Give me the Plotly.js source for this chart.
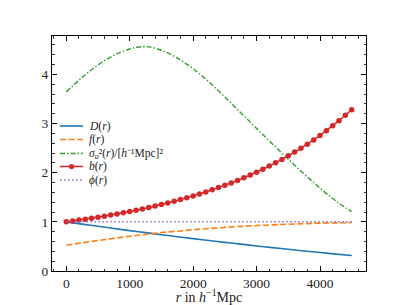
<!DOCTYPE html>
<html>
<head>
<meta charset="utf-8">
<script src="https://cdn.plot.ly/plotly-3.0.1.min.js"></script>
<style>html,body{margin:0;padding:0;background:#fff;}#chart{width:407px;height:305px;}</style>
</head>
<body>
<div id="chart"></div>
<script>
// radial grid (h^-1 Mpc) for smooth curves
var rCoarse = [0, 250, 500, 750, 1000, 1250, 1500, 1750, 2000, 2250, 2500, 2750, 3000, 3250, 3500, 3750, 4000, 4250, 4500];
var Dvals = [1.000, 0.954, 0.909, 0.865, 0.822, 0.780, 0.739, 0.698, 0.659, 0.620, 0.583, 0.546, 0.510, 0.475, 0.441, 0.408, 0.376, 0.344, 0.314];
var fvals = [0.525, 0.574, 0.620, 0.664, 0.706, 0.743, 0.782, 0.810, 0.839, 0.864, 0.887, 0.908, 0.924, 0.939, 0.952, 0.963, 0.973, 0.979, 0.985];
var sigmaVals = [3.64, 3.94, 4.19, 4.385, 4.515, 4.565, 4.49, 4.33, 4.115, 3.845, 3.54, 3.22, 2.90, 2.585, 2.275, 1.975, 1.685, 1.425, 1.205];
var phiVals = [1, 1, 1, 1, 1, 1, 1, 1, 1, 1, 1, 1, 1, 1, 1, 1, 1, 1, 1];
// bias sampled every 100 h^-1 Mpc (markers)
var rFine = [0, 100, 200, 300, 400, 500, 600, 700, 800, 900, 1000, 1100, 1200, 1300, 1400, 1500, 1600, 1700, 1800, 1900, 2000, 2100, 2200, 2300, 2400, 2500, 2600, 2700, 2800, 2900, 3000, 3100, 3200, 3300, 3400, 3500, 3600, 3700, 3800, 3900, 4000, 4100, 4200, 4300, 4400, 4500];
var bVals = [1.000, 1.017, 1.035, 1.054, 1.074, 1.094, 1.116, 1.138, 1.161, 1.185, 1.210, 1.236, 1.263, 1.292, 1.321, 1.352, 1.384, 1.418, 1.453, 1.489, 1.527, 1.566, 1.608, 1.651, 1.696, 1.742, 1.791, 1.842, 1.896, 1.951, 2.009, 2.070, 2.134, 2.200, 2.269, 2.342, 2.418, 2.497, 2.580, 2.667, 2.758, 2.853, 2.953, 3.057, 3.167, 3.282];
var xTicks = [0, 1000, 2000, 3000, 4000];
var yTicks = [0, 1, 2, 3, 4];
var names = ['<i>D</i>(<i>r</i>)', '<i>f</i>(<i>r</i>)', '<i>σ</i><sub><i>u</i></sub>²(<i>r</i>)/[<i>h</i>⁻¹Mpc]²', '<i>b</i>(<i>r</i>)', '<i>ϕ</i>(<i>r</i>)'];

var colors = ['#1f77b4', '#ff7f0e', '#2ca02c', '#d62728', '#9467bd'];
var dashes = ['solid', '6px,2.6px', '5px,2px,1.5px,2px', 'solid', '1.5px,2.5px'];
var widths = [1.6, 1.6, 1.4, 1.5, 1.5];

var traces = [
  {x: rCoarse, y: Dvals, name: names[0], mode: 'lines', line: {color: colors[0], width: widths[0], shape: 'spline'}},
  {x: rCoarse, y: fvals, name: names[1], mode: 'lines', line: {color: colors[1], width: widths[1], dash: dashes[1], shape: 'spline'}},
  {x: rCoarse, y: sigmaVals, name: names[2], mode: 'lines', line: {color: colors[2], width: widths[2], dash: dashes[2], shape: 'spline'}},
  {x: rFine, y: bVals, name: names[3], mode: 'lines+markers', line: {color: colors[3], width: widths[3]}, marker: {color: colors[3], size: 5.5}},
  {x: rCoarse, y: phiVals, name: names[4], mode: 'lines', line: {color: colors[4], width: widths[4], dash: dashes[4]}}
];

// plot area in pixels (for the hand-placed legend)
var W = 407, H = 305, ML = 52, MR = 41, MT = 36, MB = 34;
var PW = W - ML - MR, PH = H - MT - MB;
function px(x) { return (x - ML) / PW; }
function py(y) { return (H - MB - y) / PH; }

var legRows = [126, 139.5, 153.5, 166.5, 180];
var legX0 = 60, legX1 = 83, legText = 87;
var shapes = [], annotations = [];
legRows.forEach(function (yy, i) {
  shapes.push({type: 'line', xref: 'paper', yref: 'paper', x0: px(legX0), x1: px(legX1), y0: py(yy), y1: py(yy),
               line: {color: colors[i], width: widths[i], dash: dashes[i]}});
  annotations.push({xref: 'paper', yref: 'paper', x: px(legText), y: py(yy), xanchor: 'left', yanchor: 'middle',
                    text: names[i], showarrow: false, font: {family: 'Liberation Serif, serif', size: 11.5, color: '#222'}});
});
// marker in b(r) legend sample
var mcx = (legX0 + legX1) / 2, mcy = legRows[3], mr = 2.6;
shapes.push({type: 'circle', xref: 'paper', yref: 'paper', x0: px(mcx - mr), x1: px(mcx + mr), y0: py(mcy + mr), y1: py(mcy - mr),
             fillcolor: colors[3], line: {color: colors[3], width: 0}});

var axisCommon = {
  showline: true, linecolor: '#000', linewidth: 1, mirror: 'allticks',
  ticks: 'inside', ticklen: 5, tickwidth: 1, tickcolor: '#000',
  showgrid: false, zeroline: false,
  tickfont: {family: 'Liberation Serif, serif', size: 13.5, color: '#222'}
};

var layout = {
  width: W, height: H,
  margin: {l: ML, r: MR, t: MT, b: MB},
  paper_bgcolor: '#fff', plot_bgcolor: '#fff',
  showlegend: false,
  shapes: shapes,
  annotations: annotations,
  xaxis: Object.assign({}, axisCommon, {
    range: [-225, 4725], tickvals: xTicks, ticktext: xTicks.map(String),
    minor: {ticks: 'inside', ticklen: 2.5, dtick: 200, tick0: 0, tickcolor: '#000', tickwidth: 0.8},
    title: {text: '<i>r</i> in <i>h</i><sup>−1</sup>Mpc', font: {family: 'Liberation Serif, serif', size: 14, color: '#222'}, standoff: 7}
  }),
  yaxis: Object.assign({}, axisCommon, {
    range: [0, 4.78], tickvals: yTicks, ticktext: yTicks.map(String),
    minor: {ticks: 'inside', ticklen: 2.5, dtick: 0.2, tick0: 0, tickcolor: '#000', tickwidth: 0.8}
  })
};

Plotly.newPlot('chart', traces, layout, {displayModeBar: false, staticPlot: true});
</script>
</body>
</html>
